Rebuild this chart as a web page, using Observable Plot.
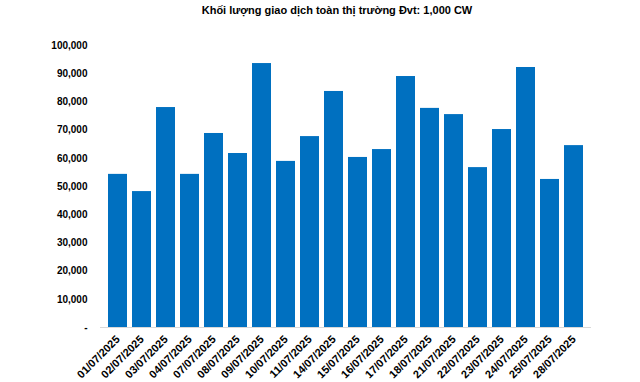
<!DOCTYPE html>
<html><head><meta charset="utf-8">
<script src="https://cdn.jsdelivr.net/npm/d3@7"></script>
<script src="https://cdn.jsdelivr.net/npm/@observablehq/plot@0.6"></script>
<style>
body{margin:0;background:#fff;font-family:"Liberation Sans",Arial,sans-serif;}
#title{height:20px;line-height:20px;text-align:center;font-weight:bold;font-size:11px;color:#000;width:606px;margin-left:34px;}
</style></head><body>
<div id="title">Khối lượng giao dịch toàn thị trường Đvt: 1,000 CW</div>
<div id="chart"></div>
<script>
const dates = ["01/07/2025","02/07/2025","03/07/2025","04/07/2025","07/07/2025","08/07/2025","09/07/2025","10/07/2025","11/07/2025","14/07/2025","15/07/2025","16/07/2025","17/07/2025","18/07/2025","21/07/2025","22/07/2025","23/07/2025","24/07/2025","25/07/2025","28/07/2025"];
const volumes = [54300,48200,78000,54300,68800,61700,93600,58900,67700,83700,60300,63100,89000,77700,75500,56700,70200,92200,52500,64500];
const yTicks = [0,10000,20000,30000,40000,50000,60000,70000,80000,90000,100000];
const data = dates.map((d,i)=>({date:d, value:volumes[i]}));
const chart = Plot.plot({
  width:640, height:362,
  marginTop:25, marginBottom:55, marginLeft:100, marginRight:49,
  style:{fontFamily:"'Liberation Sans', Arial, sans-serif", fontSize:"10px", fontWeight:"bold", color:"#000", background:"#fff"},
  x:{domain:dates, padding:0.22, label:null},
  y:{domain:[0,100000], label:null},
  marks:[
    Plot.barY(data,{x:"date", y:"value", fill:"#0070C0"}),
    Plot.ruleY([0],{stroke:"#d9d9d9", strokeWidth:1}),
    Plot.axisX({tickSize:0, tickRotate:-45, tickPadding:10, fontSize:11, label:null}),
    Plot.axisY({ticks:yTicks, tickSize:0, tickPadding:13, label:null,
      tickFormat:d=>d===0?"-":d3.format(",")(d)})
  ]
});
document.getElementById("chart").appendChild(chart);
</script></body></html>
